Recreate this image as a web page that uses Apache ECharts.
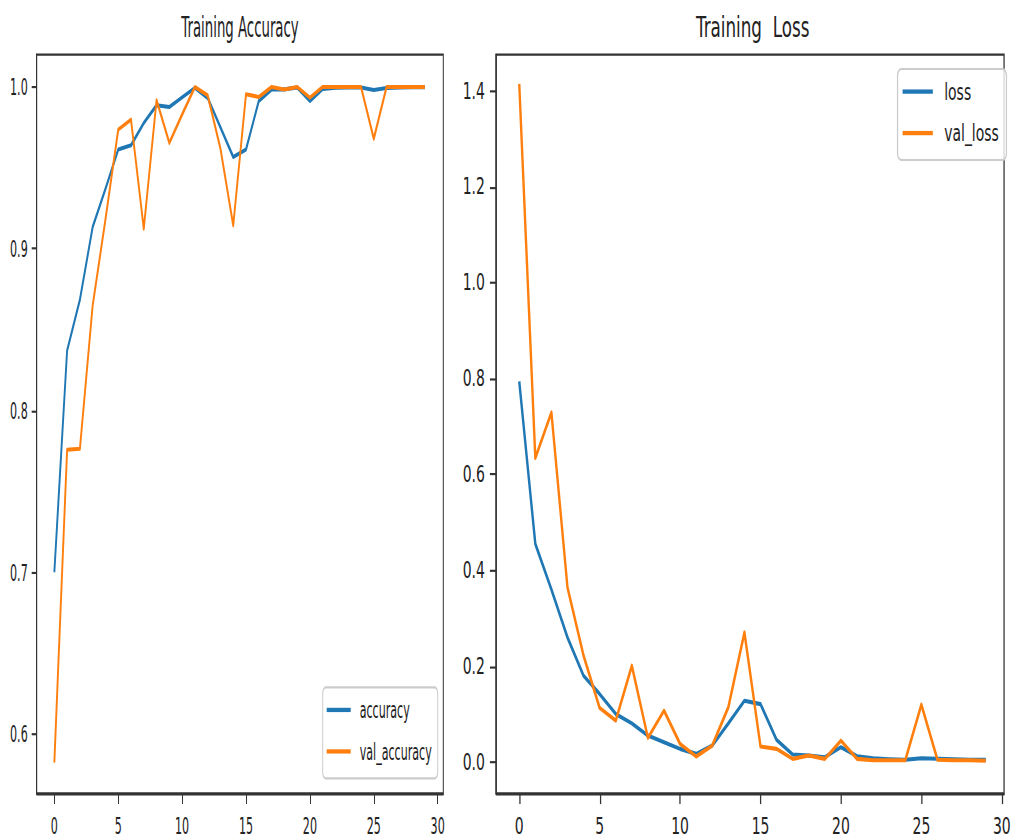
<!DOCTYPE html>
<html>
<head>
<meta charset="utf-8">
<script src="https://cdn.jsdelivr.net/npm/echarts@6/dist/echarts.min.js"></script>
<style>
  html, body { margin: 0; padding: 0; background: #fff; overflow: hidden; }
  #stage { position: relative; width: 1014px; height: 840px; overflow: hidden; background: #fff; }
  .panel { position: absolute; top: 0; transform-origin: 0 0; }
  /* both panels are laid out small and stretched, the loss panel a little wider */
  #acc  { left: 0;       width: 450px;   height: 390.7px; transform: scale(1, 2.15); }
  #loss { left: 449.8px; width: 447.8px; height: 390.7px; transform: scale(1.26, 2.15); }
</style>
</head>
<body>
<div id="stage">
  <div id="acc" class="panel"></div>
  <div id="loss" class="panel"></div>
</div>
<script>
// training history, one value per epoch
const epochs = [0, 1, 2, 3, 4, 5, 6, 7, 8, 9, 10, 11, 12, 13, 14, 15, 16, 17, 18, 19, 20, 21, 22, 23, 24, 25, 26, 27, 28, 29];

const accuracy = [0.700, 0.837, 0.8685, 0.9134, 0.937, 0.9613, 0.9639, 0.9777, 0.9887, 0.9876,
                  0.9936, 0.9994, 0.9932, 0.975, 0.9567, 0.9613, 0.9913, 0.9984, 0.9985, 0.9997,
                  0.9913, 0.9988, 0.9996, 0.9997, 0.9997, 0.9981, 0.9994, 0.9997, 0.9998, 0.9998];
const valAccuracy = [0.5824, 0.7757, 0.7763, 0.865, 0.918, 0.9736, 0.9798, 0.9124, 0.9918, 0.9654,
                     0.983, 1.0, 0.9949, 0.9619, 0.9144, 0.9955, 0.9938, 1.0, 0.9984, 1.0,
                     0.9934, 1.0, 1.0, 1.0, 1.0, 0.968, 1.0, 1.0, 1.0, 1.0];

const loss = [0.794, 0.455, 0.36, 0.26, 0.18, 0.142, 0.1005, 0.081, 0.0555, 0.0416,
              0.0277, 0.0173, 0.0347, 0.081, 0.128, 0.121, 0.0464, 0.016, 0.0139, 0.0104,
              0.0312, 0.0125, 0.008, 0.006, 0.005, 0.008, 0.007, 0.006, 0.005, 0.005];
const valLoss = [1.414, 0.634, 0.729, 0.364, 0.222, 0.113, 0.0867, 0.201, 0.0506, 0.1075,
                 0.0381, 0.0118, 0.0347, 0.1144, 0.2704, 0.0326, 0.0277, 0.0069, 0.0139, 0.0069,
                 0.045, 0.0069, 0.004, 0.004, 0.004, 0.12, 0.005, 0.004, 0.004, 0.003];

// tick positions
const xTicks = [0, 5, 10, 15, 20, 25, 30];
const accTicks = [0.6, 0.7, 0.8, 0.9, 1.0];
const lossTicks = [0.0, 0.2, 0.4, 0.6, 0.8, 1.0, 1.2, 1.4];

const FONT = 'DejaVu Sans';
const INK = '#222';
const SPINE = '#333';
const BLUE = '#1f77b4';
const ORANGE = '#ff7f0e';

function pairs(values) {
  return epochs.map((e, i) => [e, values[i]]);
}

function lineSeries(name, values, color) {
  return {
    name: name,
    type: 'line',
    data: pairs(values),
    symbol: 'none',
    color: color,
    lineStyle: { color: color, width: 1.9, join: 'round', cap: 'butt' },
    emphasis: { disabled: true }
  };
}

function axisCommon(ticks, fmt, margin) {
  return {
    type: 'value',
    splitLine: { show: false },
    axisLine: { show: true, onZero: false, lineStyle: { color: SPINE, width: 1 } },
    axisTick: { show: true, inside: false, length: 5, lineStyle: { color: SPINE, width: 1 }, customValues: ticks },
    axisLabel: { customValues: ticks, margin: margin, fontFamily: FONT, fontSize: 11.1, color: INK, formatter: fmt }
  };
}

function panel(p) {
  return {
    animation: false,
    title: {
      text: p.title, left: p.titleX, top: 6, textAlign: 'center', padding: 0,
      textStyle: { fontFamily: FONT, fontSize: 13.3, fontWeight: 'normal', color: INK }
    },
    grid: {
      left: 36.7, right: p.gridRight, top: 25.4, bottom: 22,
      show: true, borderColor: SPINE, borderWidth: 1, backgroundColor: 'transparent'
    },
    legend: {
      orient: 'vertical', left: p.legendX, top: p.legendY,
      data: p.names, icon: 'rect', itemWidth: 24, itemHeight: 2, itemGap: 8.3,
      padding: [5, 6, 7, 4],
      backgroundColor: 'rgba(255,255,255,0.8)', borderColor: '#ccc', borderWidth: 1, borderRadius: 3,
      selectedMode: false,
      textStyle: { fontFamily: FONT, fontSize: 11.1, color: INK, padding: [0, 0, 0, 4] }
    },
    xAxis: Object.assign(axisCommon(xTicks, v => String(v), 9.5), { min: p.xMin, max: p.xMax }),
    yAxis: Object.assign(axisCommon(p.yTicks, v => v.toFixed(1), 9), { min: p.yMin, max: p.yMax }),
    series: [
      lineSeries(p.names[0], p.first, BLUE),
      lineSeries(p.names[1], p.second, ORANGE)
    ]
  };
}

const accChart = echarts.init(document.getElementById('acc'), null, { renderer: 'svg' });
accChart.setOption(panel({
  title: 'Training Accuracy', titleX: 240, gridRight: 6.7,
  names: ['accuracy', 'val_accuracy'], first: accuracy, second: valAccuracy,
  xMin: -1.38, xMax: 30.44, yMin: 0.5633, yMax: 1.02, yTicks: accTicks,
  legendX: 322.7, legendY: 319.7
}));

const lossChart = echarts.init(document.getElementById('loss'), null, { renderer: 'svg' });
lossChart.setOption(panel({
  title: 'Training  Loss', titleX: 240.2, gridRight: 4,
  names: ['loss', 'val_loss'], first: loss, second: valLoss,
  xMin: -1.43, xMax: 30.14, yMin: -0.065, yMax: 1.475, yTicks: lossTicks,
  legendX: 355.2, legendY: 32.1
}));
</script>
</body>
</html>
